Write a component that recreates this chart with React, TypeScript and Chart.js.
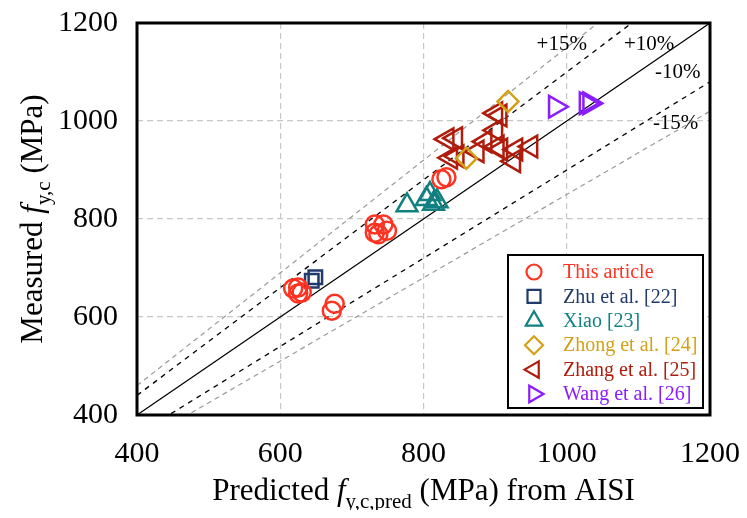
import React, { useEffect, useRef } from 'react';
import { Chart, registerables } from 'chart.js';

Chart.register(...registerables);

// ---- axis ----
const axisMin = 400;
const axisMax = 1200;
const tickValues = [400, 600, 800, 1000, 1200];

// ---- series data (predicted x, measured y) ----
const thisArticleX = [618, 625, 625, 630, 676, 672, 732, 744, 749, 737, 732, 825, 832];
const thisArticleY = [658, 660, 648, 650, 627, 613, 789, 789, 776, 769, 772, 881, 885];

const zhuX = [644, 649];
const zhuY = [674, 681];

const xiaoX = [777, 804, 809, 814, 819];
const xiaoY = [828, 841, 851, 831, 836];

const zhongX = [918, 860];
const zhongY = [1040, 924];

const zhangX = [901, 907, 901, 833, 845, 838, 847, 875, 903, 908, 929, 950, 926, 886];
const zhangY = [1016, 1011, 981, 963, 965, 925, 928, 938, 948, 942, 942, 948, 918, 958];

const wangX = [984, 1027, 1032];
const wangY = [1029, 1036, 1036];

// ---- series meta ----
const seriesNames = ['This article', 'Zhu et al. [22]', 'Xiao [23]', 'Zhong et al. [24]', 'Zhang et al. [25]', 'Wang et al. [26]'];
const seriesColors = ['#FF3322', '#1F3A6B', '#138080', '#D4A017', '#B01C0C', '#8A1CFF'];

// ---- reference lines: measured = factor * predicted ----
const refFactors = [1, 1.1, 0.9, 1.15, 0.85];
const refLabels = ['+15%', '+10%', '-10%', '-15%'];
const refLabelX = [993, 1115, 1155, 1152];
const refLabelY = [1157, 1157, 1100, 995];

const serif = '"Liberation Serif", "Times New Roman", serif';

type Part = { text: string; italic?: boolean; sub?: boolean };

function drawRich(ctx: CanvasRenderingContext2D, parts: Part[], cx: number, baseY: number, size: number, subSize: number) {
  const fontOf = (p: Part) => `${p.italic ? 'italic ' : ''}${p.sub ? subSize : size}px ${serif}`;
  let total = 0;
  const widths = parts.map((p) => {
    ctx.font = fontOf(p);
    const w = ctx.measureText(p.text).width;
    total += w;
    return w;
  });
  let xx = cx - total / 2;
  ctx.textAlign = 'left';
  ctx.textBaseline = 'alphabetic';
  parts.forEach((p, i) => {
    ctx.font = fontOf(p);
    ctx.fillText(p.text, xx, baseY + (p.sub ? 8 : 0));
    xx += widths[i];
  });
}

function drawMarker(ctx: CanvasRenderingContext2D, kind: number, x: number, y: number) {
  ctx.beginPath();
  if (kind === 0) {
    ctx.arc(x, y, 7.5, 0, Math.PI * 2);
  } else if (kind === 1) {
    ctx.rect(x - 6.5, y - 6.5, 13, 13);
  } else if (kind === 2) {
    const r = 9.5;
    ctx.moveTo(x, y - r);
    ctx.lineTo(x + r * 0.866, y + r / 2);
    ctx.lineTo(x - r * 0.866, y + r / 2);
    ctx.closePath();
  } else if (kind === 3) {
    const r = 9;
    ctx.moveTo(x, y - r);
    ctx.lineTo(x + r, y);
    ctx.lineTo(x, y + r);
    ctx.lineTo(x - r, y);
    ctx.closePath();
  } else if (kind === 4) {
    const r = 9.5;
    ctx.moveTo(x - r, y);
    ctx.lineTo(x + r / 2, y - r * 0.866);
    ctx.lineTo(x + r / 2, y + r * 0.866);
    ctx.closePath();
  } else {
    const r = 9.5;
    ctx.moveTo(x + r, y);
    ctx.lineTo(x - r / 2, y - r * 0.866);
    ctx.lineTo(x - r / 2, y + r * 0.866);
    ctx.closePath();
  }
  ctx.stroke();
}

const overlayPlugin = {
  id: 'overlay',
  afterDraw(chart: any) {
    const { ctx, chartArea: a, scales } = chart;
    const xs = scales.x;
    const ys = scales.y;
    ctx.save();

    // percentage labels
    ctx.fillStyle = '#000';
    ctx.font = `21px ${serif}`;
    ctx.textAlign = 'center';
    ctx.textBaseline = 'middle';
    refLabels.forEach((t, i) => {
      ctx.fillText(t, xs.getPixelForValue(refLabelX[i]), ys.getPixelForValue(refLabelY[i]));
    });

    // frame
    ctx.strokeStyle = '#000';
    ctx.lineWidth = 3;
    ctx.setLineDash([]);
    ctx.strokeRect(a.left, a.top, a.right - a.left, a.bottom - a.top);

    // legend box
    const lx = a.right - 202;
    const ly = a.bottom - 160;
    const lw = 195;
    const lh = 153;
    ctx.fillStyle = '#fff';
    ctx.fillRect(lx, ly, lw, lh);
    ctx.lineWidth = 2;
    ctx.strokeRect(lx, ly, lw, lh);
    seriesNames.forEach((name, i) => {
      const cy = ly + 17 + i * 24.4;
      ctx.strokeStyle = seriesColors[i];
      ctx.lineWidth = 2.2;
      drawMarker(ctx, i, lx + 26, cy);
      ctx.fillStyle = seriesColors[i];
      ctx.font = `20px ${serif}`;
      ctx.textAlign = 'left';
      ctx.textBaseline = 'middle';
      ctx.fillText(name, lx + 55, cy + 1);
    });

    // axis titles
    ctx.fillStyle = '#000';
    const cx = (a.left + a.right) / 2;
    drawRich(
      ctx,
      [
        { text: 'Predicted ' },
        { text: 'f', italic: true },
        { text: 'y,c,pred', sub: true },
        { text: ' (MPa) from AISI' },
      ],
      cx,
      492,
      31,
      21
    );
    ctx.save();
    ctx.translate(34, (a.top + a.bottom) / 2);
    ctx.rotate(-Math.PI / 2);
    drawRich(
      ctx,
      [
        { text: 'Measured ' },
        { text: 'f', italic: true },
        { text: 'y,c', sub: true },
        { text: ' (MPa)' },
      ],
      0,
      0,
      31,
      21
    );
    ctx.restore();

    ctx.restore();
  },
};

function toPoints(xs: number[], ys: number[]) {
  return xs.map((x, i) => ({ x, y: ys[i] }));
}

export default function App() {
  const canvasRef = useRef<HTMLCanvasElement | null>(null);

  useEffect(() => {
    if (!canvasRef.current) return;
    const markerSets = [
      { data: toPoints(thisArticleX, thisArticleY), pointStyle: 'circle', pointRadius: 9, pointRotation: 0 },
      { data: toPoints(zhuX, zhuY), pointStyle: 'rect', pointRadius: 9.5, pointRotation: 0 },
      { data: toPoints(xiaoX, xiaoY), pointStyle: 'triangle', pointRadius: 12, pointRotation: 0 },
      { data: toPoints(zhongX, zhongY), pointStyle: 'rectRot', pointRadius: 10.5, pointRotation: 0 },
      { data: toPoints(zhangX, zhangY), pointStyle: 'triangle', pointRadius: 12.5, pointRotation: -90 },
      { data: toPoints(wangX, wangY), pointStyle: 'triangle', pointRadius: 12.5, pointRotation: 90 },
    ].map((s, i) => ({
      type: 'scatter' as const,
      label: seriesNames[i],
      data: s.data,
      showLine: false,
      pointStyle: s.pointStyle,
      pointRadius: s.pointRadius,
      pointRotation: s.pointRotation,
      pointBorderWidth: 2.5,
      borderColor: seriesColors[i],
      pointBorderColor: seriesColors[i],
      backgroundColor: 'rgba(0,0,0,0)',
      pointBackgroundColor: 'rgba(0,0,0,0)',
    }));

    const refStyles = [
      { color: '#000000', dash: [] as number[], width: 1.2 },
      { color: '#000000', dash: [5, 5], width: 1.3 },
      { color: '#000000', dash: [5, 5], width: 1.3 },
      { color: '#9a9a9a', dash: [5, 4], width: 1.2 },
      { color: '#9a9a9a', dash: [5, 4], width: 1.2 },
    ];
    const refSets = refFactors.map((k, i) => ({
      type: 'line' as const,
      label: 'ref' + i,
      data: [
        { x: axisMin, y: axisMin * k },
        { x: axisMax, y: axisMax * k },
      ],
      showLine: true,
      pointRadius: 0,
      borderColor: refStyles[i].color,
      borderDash: refStyles[i].dash,
      borderWidth: refStyles[i].width,
      fill: false,
    }));

    const gridColor = (c: any) =>
      c.tick && (c.tick.value === axisMin || c.tick.value === axisMax) ? 'rgba(0,0,0,0)' : '#c8c8c8';

    const chart = new Chart(canvasRef.current, {
      type: 'scatter',
      data: { datasets: [...markerSets, ...refSets] as any },
      options: {
        responsive: false,
        animation: false,
        layout: { padding: { top: 13, right: 29, left: 0, bottom: 0 } },
        plugins: { legend: { display: false }, tooltip: { enabled: false } },
        scales: {
          x: {
            type: 'linear',
            min: axisMin,
            max: axisMax,
            afterBuildTicks: (s: any) => {
              s.ticks = tickValues.map((v) => ({ value: v }));
            },
            afterFit: (s: any) => {
              s.height = 103;
              s.paddingLeft = 0;
              s.paddingRight = 0;
            },
            ticks: {
              font: { family: serif, size: 30 },
              color: '#000',
              padding: 21,
              maxRotation: 0,
              autoSkip: false,
              callback: (v: any) => String(v),
            },
            grid: { color: gridColor, drawTicks: false, lineWidth: 1.2 },
            border: { display: false, dash: [6, 4] },
          },
          y: {
            type: 'linear',
            min: axisMin,
            max: axisMax,
            afterBuildTicks: (s: any) => {
              s.ticks = tickValues.map((v) => ({ value: v }));
            },
            afterFit: (s: any) => {
              s.width = 129;
              s.paddingTop = 0;
              s.paddingBottom = 0;
            },
            ticks: {
              font: { family: serif, size: 30 },
              color: '#000',
              padding: 19,
              autoSkip: false,
              callback: (v: any) => String(v),
            },
            grid: { color: gridColor, drawTicks: false, lineWidth: 1.2 },
            border: { display: false, dash: [6, 4] },
          },
        },
      },
      plugins: [overlayPlugin],
    });
    return () => chart.destroy();
  }, []);

  return (
    <div style={{ width: 731, height: 502 }}>
      <canvas ref={canvasRef} width={731} height={510} style={{ display: 'block' }} />
    </div>
  );
}
